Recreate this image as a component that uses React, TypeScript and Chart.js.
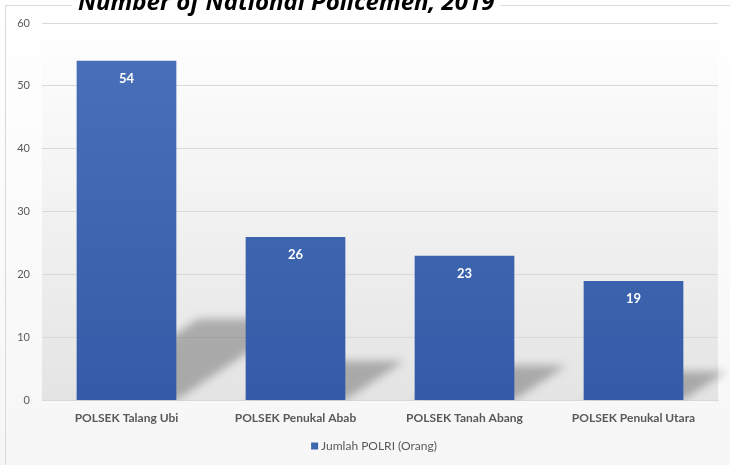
import React, { useEffect, useRef } from "react";
import { Chart, registerables } from "chart.js";

Chart.register(...registerables);

const categories = ["POLSEK Talang Ubi", "POLSEK Penukal Abab", "POLSEK Tanah Abang", "POLSEK Penukal Utara"];
const seriesName = "Jumlah POLRI (Orang)";
const values = [54, 26, 23, 19];
const yTicks = [0, 10, 20, 30, 40, 50, 60];
const titleText = "Number of National Policemen, 2019";

const decorPlugin = {
  id: "decor",
  beforeDraw(chart: any) {
    const { ctx, chartArea: a, width, height } = chart;
    ctx.save();
    const bg = ctx.createLinearGradient(0, 0, 0, height);
    bg.addColorStop(0, "#ffffff");
    bg.addColorStop(1, "#f6f6f6");
    ctx.fillStyle = bg;
    ctx.fillRect(0, 0, width, height);
    const pg = ctx.createLinearGradient(0, a.top, 0, a.bottom);
    pg.addColorStop(0, "#ffffff");
    pg.addColorStop(1, "#e4e4e4");
    ctx.fillStyle = pg;
    ctx.fillRect(a.left, a.top, a.right - a.left, a.bottom - a.top);
    ctx.strokeStyle = "#d9d9d9";
    ctx.lineWidth = 1;
    ctx.strokeRect(5.5, 5.5, width + 10, height + 10);
    ctx.restore();
  },
  beforeDatasetsDraw(chart: any) {
    const { ctx, chartArea: a } = chart;
    const meta = chart.getDatasetMeta(0);
    ctx.save();
    ctx.beginPath();
    ctx.rect(a.left, a.top, a.right - a.left + 20, a.bottom - a.top);
    ctx.clip();
    ctx.filter = "blur(4px)";
    ctx.fillStyle = "rgba(60,60,60,0.36)";
    meta.data.forEach((bar: any, i: number) => {
      const half = bar.width / 2;
      const l = bar.x - half;
      const r = bar.x + half;
      const base = bar.base;
      const h = values[i] * 1.5;
      const dx = h * 1.5;
      ctx.beginPath();
      ctx.moveTo(l, base);
      ctx.lineTo(r, base);
      ctx.lineTo(r + dx, base - h);
      ctx.lineTo(l + dx, base - h);
      ctx.closePath();
      ctx.fill();
    });
    ctx.restore();
  },
  afterDatasetsDraw(chart: any) {
    const { ctx } = chart;
    const meta = chart.getDatasetMeta(0);
    ctx.save();
    ctx.fillStyle = "#ffffff";
    ctx.font = "bold 13px Lato";
    ctx.textAlign = "center";
    ctx.textBaseline = "middle";
    meta.data.forEach((bar: any, i: number) => {
      ctx.fillText(String(values[i]), bar.x, bar.y + 18);
    });
    ctx.restore();
  },
  afterDraw(chart: any) {
    const { ctx, height } = chart;
    ctx.save();
    ctx.font = 'italic bold 24px "Open Sans"';
    const w = ctx.measureText(titleText).width;
    ctx.fillStyle = "#ffffff";
    ctx.fillRect(72, 0, w + 12, 12);
    ctx.fillStyle = "#000000";
    ctx.textBaseline = "alphabetic";
    ctx.fillText(titleText, 78, 10);
    // legend
    const ly = height - 19;
    ctx.font = "12px Lato";
    const tw = ctx.measureText(seriesName).width;
    const total = 7 + 3 + tw;
    const lx = 374 - total / 2;
    ctx.fillStyle = "#3f66b0";
    ctx.fillRect(lx, ly - 3.5, 7, 7);
    ctx.fillStyle = "#595959";
    ctx.textBaseline = "middle";
    ctx.fillText(seriesName, lx + 10, ly);
    ctx.restore();
  },
};

export default function App() {
  const ref = useRef<HTMLCanvasElement>(null);
  useEffect(() => {
    if (!ref.current) return;
    const chart = new Chart(ref.current, {
      type: "bar",
      data: {
        labels: categories,
        datasets: [
          {
            label: seriesName,
            data: values,
            backgroundColor: (c: any) => {
              const a = c.chart.chartArea;
              if (!a) return "#4169b4";
              const g = c.chart.ctx.createLinearGradient(0, a.top, 0, a.bottom);
              g.addColorStop(0, "#4a71b9");
              g.addColorStop(1, "#345ba7");
              return g;
            },
            borderWidth: 0,
            barPercentage: 0.59,
            categoryPercentage: 1,
          },
        ],
      },
      options: {
        animation: false,
        responsive: false,
        layout: { padding: { left: 0, right: 12, top: 23, bottom: 38 } },
        plugins: {
          title: { display: false },
          tooltip: { enabled: false },
          legend: { display: false },
        },
        scales: {
          x: {
            grid: { display: false },
            border: { display: true, color: "#d9d9d9" },
            ticks: { color: "#595959", font: { family: "Lato", size: 12, weight: "bold" }, padding: 2 },
          },
          y: {
            min: 0,
            max: 60,
            afterFit: (s: any) => { s.width = 42; },
            afterBuildTicks: (s: any) => { s.ticks = yTicks.map((v) => ({ value: v })); },
            grid: { color: "#d9d9d9", drawTicks: false },
            border: { display: false },
            ticks: { color: "#595959", font: { family: "Lato", size: 11 }, padding: 12 },
          },
        },
      },
      plugins: [decorPlugin],
    });
    return () => chart.destroy();
  }, []);
  return (
    <div style={{ position: "fixed", left: 0, top: 0, width: 730, height: 465 }}>
      <canvas ref={ref} width={730} height={465} style={{ display: "block" }} />
    </div>
  );
}
